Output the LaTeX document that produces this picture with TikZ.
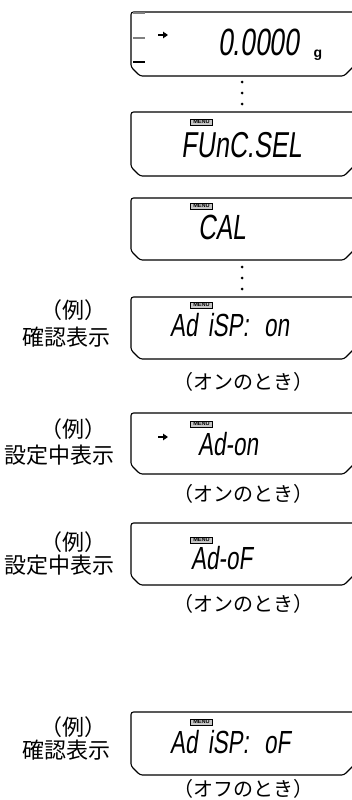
\documentclass[tikz,border=0pt]{standalone}
\usepackage{fontspec}
\newfontfamily\jpfont{Noto Sans CJK JP}
\newfontfamily\segfont[FakeSlant=0.13,FakeStretch=0.7]{Liberation Sans}
\newfontfamily\unitfont{Liberation Sans}
\usetikzlibrary{positioning,arrows.meta}

\tikzset{
  lcdframe/.style={line width=1.1pt,rounded corners=2.5pt},
  seg/.style={inner sep=0pt,anchor=west,font=\segfont\fontsize{#1}{#1}\selectfont},
  seg/.default=30,
  menutag/.style={draw,fill=gray!45,line width=0.3pt,inner sep=0pt,minimum width=22pt,minimum height=6pt,font=\unitfont\bfseries\fontsize{5.6}{5.6}\selectfont},
  jplabel/.style={inner sep=0pt,anchor=base,font=\jpfont\fontsize{22}{22}\selectfont},
  whenlabel/.style={inner sep=0pt,anchor=base,font=\jpfont\fontsize{20}{20}\selectfont},
  vdot/.style={circle,fill,inner sep=0pt,minimum size=3pt},
  segarrow/.style={-{Triangle[length=5pt,width=6.5pt]},line width=2pt},
}
% LCD frame: top, bottom
\newcommand\lcdbox[2]{%
  \draw[lcdframe] (356,#1) -- (131,#1) -- (131,#2-9) -- (140,#2) -- (344,#2) -- (356,#2-12);}

\begin{document}
\begin{tikzpicture}[x=1pt,y=-1pt]
\useasboundingbox (0,0) rectangle (352,800);
\clip (0,0) rectangle (352,800);

% weighing display
\lcdbox{12}{76}
\draw[gray,line width=1.2pt] (133,13) -- (145,13);
\draw[gray,line width=1.2pt] (133,38) -- (145,38);
\draw[line width=1.2pt] (133,62) -- (145,62);
\draw[segarrow] (158,35) -- (168,35);
\node[seg=38] (zero) at (218,42) {0.0000};
\node[inner sep=0pt,anchor=base,font=\unitfont\bfseries\fontsize{14}{14}\selectfont] (unit) at (318,57) {g};

\node[vdot] (d1) at (242,82) {};
\node[vdot] (d2) at (242,93) {};
\node[vdot] (d3) at (242,104) {};

% function select
\lcdbox{112}{176}
\node[menutag] (m1) at (201.5,122) {MENU};
\node[seg=36] (funcsel) at (181,145) {FUnC.SEL};

\lcdbox{198}{260}
\node[menutag] (m2) at (201.5,206) {MENU};
\node[seg=35] (cal) at (198,227) {CAL};

\node[vdot] (d4) at (242,267) {};
\node[vdot] (d5) at (242,278) {};
\node[vdot] (d6) at (242,289) {};

% confirm: on
\lcdbox{297}{359}
\node[menutag] (m3) at (201.5,305) {MENU};
\node[seg=32] (adispon) at (170,325) {Ad\hspace{4pt} iSP:\hspace{9pt} on};
\node[jplabel] (ex1) at (73,318) {（例）};
\node[jplabel] (kind1) at (66,345) {確認表示};
\node[whenlabel] (on1) at (243,389) {（オンのとき）};

% setting: on
\lcdbox{413}{474}
\node[menutag] (m4) at (201.5,424) {MENU};
\draw[segarrow] (158,437) -- (168,437);
\node[seg=32] (adon) at (198,444) {Ad-on};
\node[jplabel] (ex2) at (73,437) {（例）};
\node[jplabel] (kind2) at (60,463) {設定中表示};
\node[whenlabel] (on2) at (243,501) {（オンのとき）};

% setting: off
\lcdbox{523}{585}
\node[menutag] (m5) at (201.5,540) {MENU};
\node[seg=32] (adof) at (191,558) {Ad-oF};
\node[jplabel] (ex3) at (73,550) {（例）};
\node[jplabel] (kind3) at (60,573) {設定中表示};
\node[whenlabel] (on3) at (243,611) {（オンのとき）};

% confirm: off
\lcdbox{712}{775}
\node[menutag] (m6) at (201.5,722) {MENU};
\node[seg=32] (adispof) at (170,742) {Ad\hspace{4pt} iSP:\hspace{9pt} oF};
\node[jplabel] (ex4) at (73,735) {（例）};
\node[jplabel] (kind4) at (66,758) {確認表示};
\node[whenlabel] (off4) at (243,796) {（オフのとき）};
\end{tikzpicture}
\end{document}
